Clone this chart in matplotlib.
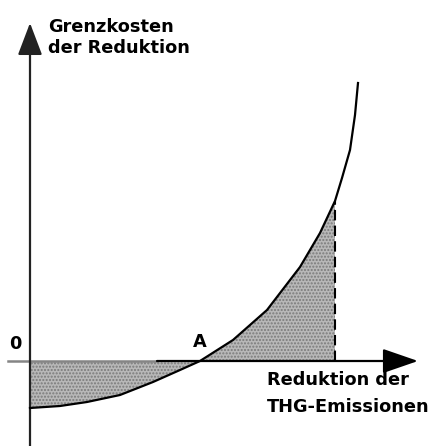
import matplotlib.pyplot as plt

# curve (origin = axis crossing, arbitrary units)
red_x = [0, 30, 57, 90, 123, 150, 170, 203, 237, 270, 290, 305, 312, 320, 325, 328]
mc_y = [-47, -45, -41, -34, -21, -9, 0, 21, 51, 94, 128, 160, 183, 211, 246, 278]
cut_idx = 11          # dashed line sits at red_x[11]
point_A = 170

ylabel_lines = ["Grenzkosten", "der Reduktion"]
xlabel_lines = ["Reduktion der", "THG-Emissionen"]

fig = plt.figure(figsize=(4.42, 4.46), dpi=100)
ax = fig.add_axes([0, 0, 1, 1])
ax.set_xlim(-30, 412)
ax.set_ylim(-85, 361)
ax.axis('off')

# shaded areas
ax.fill_between(red_x[:cut_idx + 1], mc_y[:cut_idx + 1], 0,
                facecolor='#b8b8b8', edgecolor='#7a7a7a', hatch='.....', lw=0, zorder=1)

# axes with arrows
ax.plot([-22, 127], [0, 0], color='#858585', lw=1.8, zorder=2)
ax.annotate('', xy=(388, 0), xytext=(127, 0),
            arrowprops=dict(arrowstyle='-|>,head_length=1.1,head_width=0.38',
                            mutation_scale=20, lw=1.6, color='black', shrinkA=0, shrinkB=0), zorder=3)
ax.annotate('', xy=(0, 338), xytext=(0, -85),
            arrowprops=dict(arrowstyle='-|>,head_length=1.0,head_width=0.38',
                            mutation_scale=20, lw=1.6, color='#222222', shrinkA=0, shrinkB=0), zorder=3)

# curve and dashed cut
ax.plot(red_x, mc_y, color='black', lw=1.6, zorder=4)
ax.plot([red_x[cut_idx], red_x[cut_idx]], [0, mc_y[cut_idx]], color='black', lw=1.5,
        ls=(0, (5, 2.5)), zorder=4)

fnt = dict(family='DejaVu Sans', weight='bold', fontsize=12.8, color='black')
ax.text(18, 334, ylabel_lines[0], ha='left', va='center', **fnt)
ax.text(18, 313, ylabel_lines[1], ha='left', va='center', **fnt)
ax.text(237, -19, xlabel_lines[0], ha='left', va='center', **fnt)
ax.text(237, -46, xlabel_lines[1], ha='left', va='center', **fnt)
ax.text(-15, 17, '0', ha='center', va='center', **fnt)
ax.text(point_A, 19, 'A', ha='center', va='center', **fnt)

fig.savefig('out.png', dpi=100)
